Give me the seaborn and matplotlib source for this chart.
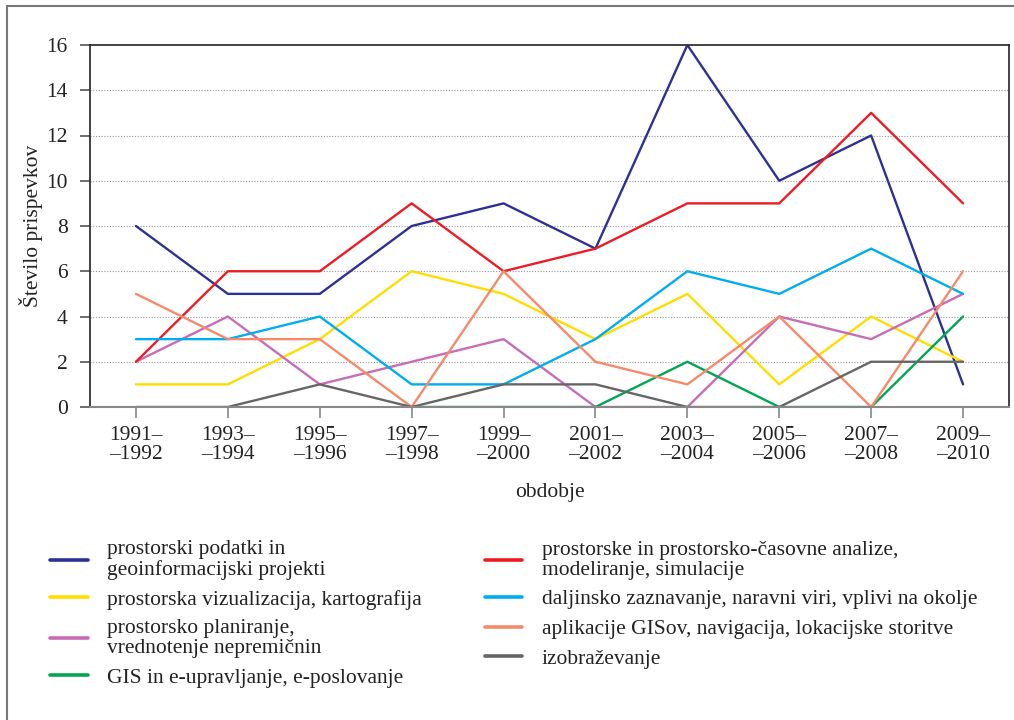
import pandas as pd
import numpy as np
import matplotlib.pyplot as plt
import seaborn as sns
from matplotlib.lines import Line2D

sns.set_style("white")
plt.rcParams['font.family'] = ['Liberation Serif', 'DejaVu Serif']

# podatki
obdobja = ["1991–\n–1992", "1993–\n–1994", "1995–\n–1996", "1997–\n–1998", "1999–\n–2000",
           "2001–\n–2002", "2003–\n–2004", "2005–\n–2006", "2007–\n–2008", "2009–\n–2010"]

podatki = [8, 5, 5, 8, 9, 7, 16, 10, 12, 1]
vizualizacija = [1, 1, 3, 6, 5, 3, 5, 1, 4, 2]
planiranje = [2, 4, 1, 2, 3, 0, 0, 4, 3, 5]
upravljanje = [np.nan, np.nan, np.nan, 0, 0, 0, 2, 0, 0, 4]
analize = [2, 6, 6, 9, 6, 7, 9, 9, 13, 9]
daljinsko = [3, 3, 4, 1, 1, 3, 6, 5, 7, 5]
aplikacije = [5, 3, 3, 0, 6, 2, 1, 4, 0, 6]
izobrazevanje = [0, 0, 1, 0, 1, 1, 0, 0, 2, 2]

serije = {
    "prostorski podatki in\ngeoinformacijski projekti": podatki,
    "prostorska vizualizacija, kartografija": vizualizacija,
    "prostorsko planiranje,\nvrednotenje nepremičnin": planiranje,
    "GIS in e-upravljanje, e-poslovanje": upravljanje,
    "prostorske in prostorsko-časovne analize,\nmodeliranje, simulacije": analize,
    "daljinsko zaznavanje, naravni viri, vplivi na okolje": daljinsko,
    "aplikacije GISov, navigacija, lokacijske storitve": aplikacije,
    "izobraževanje": izobrazevanje,
}
barve = ["#2E3192", "#FFDD00", "#C86DB5", "#00A651", "#ED1C24", "#00AEEF", "#F58A6A", "#666666"]

rows = []
for ime, vals in serije.items():
    for i, v in enumerate(vals):
        rows.append({"obdobje": i, "kategorija": ime, "stevilo": v})
df = pd.DataFrame(rows).dropna()

fs = 15.5
fig = plt.figure(figsize=(10.14, 7.2), dpi=100)
ax = fig.add_axes([90 / 1014, 1 - 407 / 720, (1009 - 90) / 1014, (407 - 45) / 720])

# tockasta mreza
for y in range(2, 16, 2):
    ax.axhline(y, color="#999999", lw=0.8, ls=(0, (1, 1.5)), zorder=0)

sns.lineplot(data=df, x="obdobje", y="stevilo", hue="kategorija",
             palette=dict(zip(serije.keys(), barve)), hue_order=list(serije.keys()),
             linewidth=1.7, ax=ax, legend=False, sort=False)

ax.set_xlim(-0.5, 9.5)
ax.set_ylim(0, 16)
ax.set_yticks(range(0, 17, 2))
ax.set_xticks(range(10))
ax.set_xticklabels(obdobja, fontsize=fs, linespacing=0.95, color="#222222")
ax.tick_params(axis="y", labelsize=fs, labelcolor="#222222", direction="out",
               length=7, width=1.2, color="#555555", pad=9)
ax.tick_params(axis="x", direction="out", length=8, width=1.2, color="#888888", pad=6)
ax.tick_params(left=True, bottom=True)

for s in ["left", "top", "right"]:
    ax.spines[s].set_color("#222222")
    ax.spines[s].set_linewidth(1.2)
ax.spines["bottom"].set_color("#888888")
ax.spines["bottom"].set_linewidth(1.5)

ax.set_xlabel("obdobje", fontsize=fs, color="#222222", labelpad=14)
ax.set_ylabel("Število prispevkov", fontsize=fs, color="#222222")
ax.yaxis.set_label_coords(-47 / 919, 0.5)

# legenda
handles = [Line2D([0], [0], color=c, lw=2.6) for c in barve]
leg = fig.legend(handles, list(serije.keys()), loc="upper left",
                 bbox_to_anchor=(31 / 1014, 1 - 521 / 720), ncol=2, frameon=False,
                 fontsize=fs, handlelength=1.75, handletextpad=0.9, columnspacing=2.9,
                 labelspacing=0.45, labelcolor="#222222")
plt.setp(leg.get_texts(), linespacing=1.05)

# okvir slike
fig.add_artist(Line2D([7 / 1014, 7 / 1014], [0, 1 - 6 / 720], transform=fig.transFigure,
                      color="#777777", lw=1.5))
fig.add_artist(Line2D([7 / 1014, 1], [1 - 6 / 720, 1 - 6 / 720], transform=fig.transFigure,
                      color="#777777", lw=1.5))

fig.savefig("out.png", dpi=100)
